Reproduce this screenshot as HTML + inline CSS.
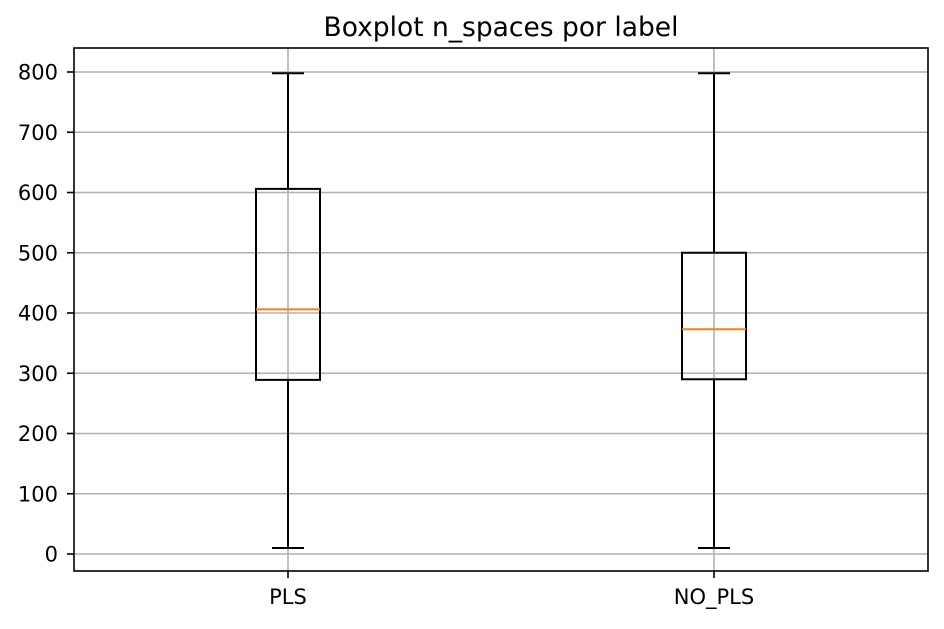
<!DOCTYPE html>
<html><head><meta charset="utf-8"><style>
body{margin:0;background:#fff;}
svg text{font-family:"DejaVu Sans","Liberation Sans",sans-serif;}
</style></head><body>
<svg id="chart" width="944" height="624"></svg>
<script>
const categories=["PLS","NO_PLS"];
const whiskerLow=[10,10];
const q1Values=[289,290];
const medianValues=[406,373];
const q3Values=[606,500];
const whiskerHigh=[798,798];
const yTicks=[0,100,200,300,400,500,600,700,800];

const svg=document.getElementById('chart');
const NS='http://www.w3.org/2000/svg';
const L=74,R=928,T=48,B=571;
const y0px=554,pxPer=0.6025;
function yScale(v){return y0px-v*pxPer;}
const xCenters=[288,714];
function xScale(i){return xCenters[i];}
function mk(tag,attrs,name,text){
  const e=document.createElementNS(NS,tag);
  for(const k in attrs)e.setAttribute(k,attrs[k]);
  
  
  if(text!==undefined)e.textContent=text;
  svg.appendChild(e);return e;
}
yTicks.forEach(t=>{
  const y=yScale(t);
  mk('line',{x1:L,x2:R,y1:y,y2:y,stroke:'#b0b0b0','stroke-width':1.6},'y-gridline');
  mk('line',{x1:L-7,x2:L,y1:y,y2:y,stroke:'#000','stroke-width':1.6},'y-tick');
  mk('text',{x:L-16,y:y+7.5,'text-anchor':'end','font-size':'21'},'y-tick-label',String(t));
});
categories.forEach((c,i)=>{
  const x=xScale(i);
  mk('line',{x1:x,x2:x,y1:T,y2:B,stroke:'#b0b0b0','stroke-width':1.6},'x-gridline');
});
const bw=64;
categories.forEach((c,i)=>{
  const x=xScale(i);
  mk('line',{x1:x,x2:x,y1:yScale(q3Values[i]),y2:yScale(whiskerHigh[i]),stroke:'#000','stroke-width':2},'upper-whisker-'+c.toLowerCase());
  mk('line',{x1:x,x2:x,y1:yScale(q1Values[i]),y2:yScale(whiskerLow[i]),stroke:'#000','stroke-width':2},'lower-whisker-'+c.toLowerCase());
  mk('line',{x1:x-bw/4,x2:x+bw/4,y1:yScale(whiskerHigh[i]),y2:yScale(whiskerHigh[i]),stroke:'#000','stroke-width':2},'upper-cap-'+c.toLowerCase());
  mk('line',{x1:x-bw/4,x2:x+bw/4,y1:yScale(whiskerLow[i]),y2:yScale(whiskerLow[i]),stroke:'#000','stroke-width':2},'lower-cap-'+c.toLowerCase());
  mk('rect',{x:x-bw/2,y:yScale(q3Values[i]),width:bw,height:yScale(q1Values[i])-yScale(q3Values[i]),fill:'none',stroke:'#000','stroke-width':2},'box-'+c.toLowerCase());
  mk('line',{x1:x-bw/2,x2:x+bw/2,y1:yScale(medianValues[i]),y2:yScale(medianValues[i]),stroke:'#ff7f0e','stroke-width':2},'median-'+c.toLowerCase());
  mk('line',{x1:x,x2:x,y1:B,y2:B+7,stroke:'#000','stroke-width':1.6},'x-tick');
  mk('text',{x:x,y:B+33,'text-anchor':'middle','font-size':'21'},'x-tick-label',c);
});
mk('rect',{x:L,y:T,width:R-L,height:B-T,fill:'none',stroke:'#000','stroke-width':1.6},'plot-frame');
mk('text',{x:(L+R)/2,y:36,'text-anchor':'middle','font-size':'26.5'},'chart-title','Boxplot n_spaces por label');
</script>
</body></html>
